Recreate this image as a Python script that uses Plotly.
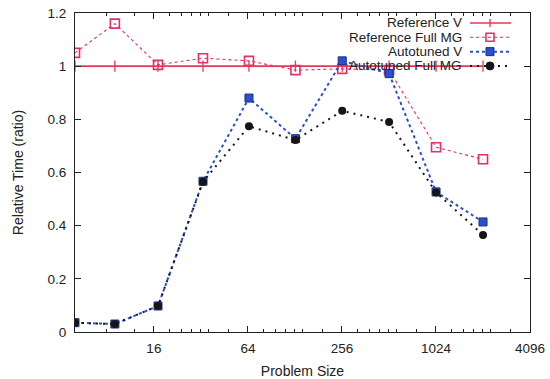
import plotly.graph_objects as go
import math

# ---- data ----
problem_size = [5, 9, 17, 33, 65, 129, 257, 513, 1025, 2049]
reference_v = [1.0, 1.0, 1.0, 1.0, 1.0, 1.0, 1.0, 1.0, 1.0, 1.0]
reference_full_mg = [1.05, 1.16, 1.005, 1.03, 1.02, 0.985, 0.99, 0.985, 0.695, 0.65]
autotuned_v = [0.035, 0.03, 0.098, 0.567, 0.88, 0.727, 1.02, 0.972, 0.527, 0.414]
autotuned_full_mg = [0.035, 0.03, 0.098, 0.565, 0.774, 0.722, 0.832, 0.79, 0.525, 0.365]

x_ticks = [16, 64, 256, 1024, 4096]
x_tick_labels = ["16", "64", "256", "1024", "4096"]
x_minor = [8, 12] + [m * f for m in [16, 64, 256, 1024] for f in (1.25, 1.5, 1.75, 2, 2.25, 3)]
y_ticks = [0, 0.2, 0.4, 0.6, 0.8, 1.0, 1.2]
y_tick_labels = ["0", "0.2", "0.4", "0.6", "0.8", "1", "1.2"]

series_names = ["Reference V", "Reference Full MG", "Autotuned V", "Autotuned Full MG"]
RED = "#e5394f"
PINK = "#e0306a"
BLUE = "#2b4fd1"
BLACK = "#151515"

FONT = "Liberation Sans, Arial, Helvetica, sans-serif"

fig = go.Figure()
fig.add_trace(go.Scatter(x=problem_size, y=reference_v, mode="lines+markers", name=series_names[0],
                         line=dict(color=RED, width=1.6),
                         marker=dict(symbol="line-ns-open", size=8, line=dict(color=RED, width=1.3))))
fig.add_trace(go.Scatter(x=problem_size, y=reference_full_mg, mode="lines+markers", name=series_names[1],
                         line=dict(color=PINK, width=1.1, dash="dot"),
                         marker=dict(symbol="square-open", size=9, color=PINK, line=dict(color=PINK, width=1.6))))
fig.add_trace(go.Scatter(x=problem_size, y=autotuned_v, mode="lines+markers", name=series_names[2],
                         line=dict(color=BLUE, width=2, dash="dot"),
                         marker=dict(symbol="square", size=8, color=BLUE, line=dict(color="#1a2f80", width=1))))
fig.add_trace(go.Scatter(x=problem_size, y=autotuned_full_mg, mode="lines+markers", name=series_names[3],
                         line=dict(color=BLACK, width=2, dash="2px,5px"),
                         marker=dict(symbol="circle", size=8, color=BLACK)))

# ---- gnuplot-like legend (text right, sample left of it) ----
L, R, T, B = 75, 530, 12.5, 332
W, H = R - L, B - T
def px(x):
    return (x - L) / W
def py(y):
    return (B - y) / H

rows = [22.5, 36.8, 51.2, 65.5]
shapes = []
annotations = []
for i, name in enumerate(series_names):
    yy = py(rows[i])
    annotations.append(dict(x=px(463), y=yy, xref="paper", yref="paper", text=name, showarrow=False,
                            xanchor="right", yanchor="middle", borderpad=0,
                            font=dict(family=FONT, size=13.5, color="#222")))
sample_styles = [
    dict(color=RED, width=1.6, dash="solid"),
    dict(color=PINK, width=1.1, dash="dot"),
    dict(color=BLUE, width=2, dash="dot"),
    dict(color=BLACK, width=2, dash="2px,5px"),
]
for i, st in enumerate(sample_styles):
    yy = py(rows[i])
    shapes.append(dict(type="line", xref="paper", yref="paper", x0=px(470), x1=px(511), y0=yy, y1=yy,
                       line=st))
cx = 490
shapes.append(dict(type="line", xref="paper", yref="paper", x0=px(cx), x1=px(cx), y0=py(rows[0] - 4), y1=py(rows[0] + 4),
                   line=dict(color=RED, width=1.3)))
shapes.append(dict(type="rect", xref="paper", yref="paper", x0=px(cx - 4), x1=px(cx + 4), y0=py(rows[1] + 4), y1=py(rows[1] - 4),
                   line=dict(color=PINK, width=1.6), fillcolor="rgba(0,0,0,0)"))
shapes.append(dict(type="rect", xref="paper", yref="paper", x0=px(cx - 4), x1=px(cx + 4), y0=py(rows[2] + 4), y1=py(rows[2] - 4),
                   line=dict(color="#1a2f80", width=1), fillcolor=BLUE))
shapes.append(dict(type="circle", xref="paper", yref="paper", x0=px(cx - 4), x1=px(cx + 4), y0=py(rows[3] + 4), y1=py(rows[3] - 4),
                   line=dict(color=BLACK, width=1), fillcolor=BLACK))

fig.update_layout(
    width=550, height=379,
    margin=dict(l=L, r=550 - R, t=T, b=379 - B),
    paper_bgcolor="white", plot_bgcolor="white",
    showlegend=False,
    font=dict(family=FONT, size=14, color="#222"),
    shapes=shapes,
    annotations=annotations,
)
fig.update_xaxes(
    type="log", range=[math.log10(5), math.log10(4096)],
    tickmode="array", tickvals=x_ticks, ticktext=x_tick_labels,
    ticks="inside", ticklen=6, tickwidth=1, tickcolor="#222",
    showline=True, linecolor="#222", linewidth=1.2, mirror="ticks",
    showgrid=False, zeroline=False, ticklabelstandoff=4, automargin=False,
    minor=dict(tickmode="array", tickvals=x_minor, ticks="inside", ticklen=3, tickcolor="#222", showgrid=False),
    title=dict(text="Problem Size", font=dict(family=FONT, size=14), standoff=10),
    tickfont=dict(family=FONT, size=13.5),
)
fig.update_yaxes(
    range=[0, 1.2],
    tickmode="array", tickvals=y_ticks, ticktext=y_tick_labels,
    ticks="inside", ticklen=6, tickwidth=1, tickcolor="#222",
    showline=True, linecolor="#222", linewidth=1.2, mirror="ticks",
    showgrid=False, zeroline=False, ticklabelstandoff=5, automargin=False,
    title=dict(text="Relative Time (ratio)", font=dict(family=FONT, size=14), standoff=20),
    tickfont=dict(family=FONT, size=13.5),
)

fig.write_html("out.html")
